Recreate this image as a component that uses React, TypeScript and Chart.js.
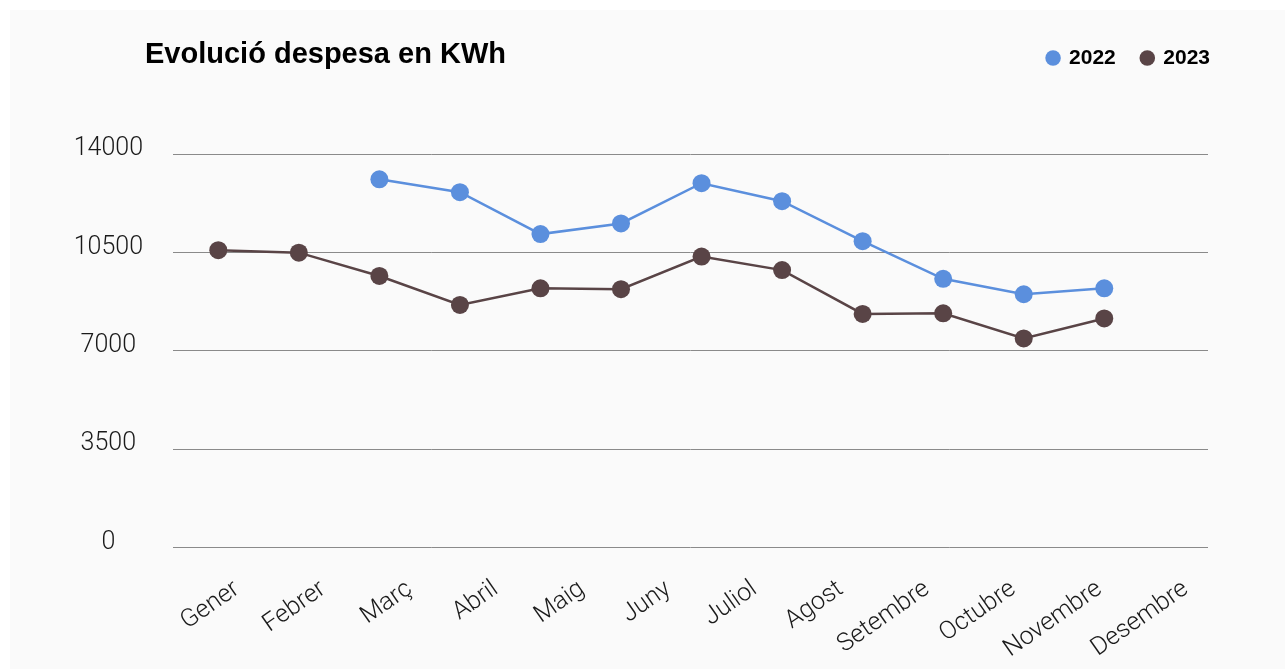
import React, { useEffect, useRef } from "react";
import { Chart, registerables } from "chart.js";

Chart.register(...registerables);

const chartTitle = "Evolució despesa en KWh";
const months = ["Gener", "Febrer", "Març", "Abril", "Maig", "Juny", "Juliol", "Agost", "Setembre", "Octubre", "Novembre", "Desembre"];
const seriesNames = ["2022", "2023"];
const kwh2022: (number | null)[] = [null, null, 13100, 12640, 11150, 11530, 12960, 12320, 10900, 9560, 9010, 9220];
const kwh2023: (number | null)[] = [10580, 10490, 9660, 8630, 9220, 9190, 10350, 9870, 8310, 8330, 7440, 8150];
const yTicks = [0, 3500, 7000, 10500, 14000];

const BLUE = "#5b8fdd";
const BROWN = "#594446";
const FAMILY = "Roboto, 'Liberation Sans', Arial, sans-serif";

export default function App() {
  const canvasRef = useRef<HTMLCanvasElement | null>(null);

  useEffect(() => {
    if (!canvasRef.current) return;
    const toPoints = (arr: (number | null)[]) => arr.map((v, i) => ({ x: i, y: v }));
    const chart = new Chart(canvasRef.current, {
      type: "line",
      data: {
        labels: months,
        datasets: [
          {
            label: seriesNames[0],
            data: toPoints(kwh2022) as any,
            xAxisID: "xp",
            yAxisID: "y",
            borderColor: BLUE,
            backgroundColor: BLUE,
            pointBackgroundColor: BLUE,
            pointBorderWidth: 0,
            pointRadius: 9,
            pointHoverRadius: 9,
            borderWidth: 2.5,
            tension: 0,
          },
          {
            label: seriesNames[1],
            data: toPoints(kwh2023) as any,
            xAxisID: "xp",
            yAxisID: "y",
            borderColor: BROWN,
            backgroundColor: BROWN,
            pointBackgroundColor: BROWN,
            pointBorderWidth: 0,
            pointRadius: 9,
            pointHoverRadius: 9,
            borderWidth: 2.5,
            tension: 0,
          },
        ],
      },
      options: {
        responsive: false,
        animation: false,
        events: [],
        layout: { padding: { top: 11.5, right: 49, left: 0, bottom: 0 } },
        plugins: {
          tooltip: { enabled: false },
          legend: {
            display: true,
            position: "top",
            align: "end",
            labels: {
              usePointStyle: true,
              pointStyle: "circle",
              boxWidth: 11,
              boxHeight: 11,
              padding: 26,
              color: "#000",
              font: { size: 21, weight: "bold", family: "'Liberation Sans', Arial, sans-serif" },
            },
          },
          subtitle: {
            display: true,
            text: " ",
            position: "top",
            weight: 500,
            font: { size: 10, lineHeight: 1.2 },
            padding: { top: 32, bottom: 31.5 },
          } as any,
        },
        scales: {
          x: {
            type: "category",
            position: "bottom",
            labels: months,
            offset: true,
            grid: { display: false, drawTicks: false },
            border: { display: false },
            ticks: {
              autoSkip: false,
              minRotation: 35,
              maxRotation: 35,
              labelOffset: 21,
              padding: 27,
              color: "#1a1a1a",
              font: { size: 25, family: FAMILY, weight: 300 as any },
            },
            afterFit: (s: any) => {
              s.height = 121.5;
            },
          },
          xp: {
            type: "linear",
            display: false,
            min: -0.5624,
            max: 12.288,
          },
          y: {
            type: "linear",
            position: "left",
            min: 0,
            max: 14000,
            afterBuildTicks: (s: any) => {
              s.ticks = yTicks.map((v) => ({ value: v }));
            },
            grid: { color: "#8a8a8a", lineWidth: 1, drawTicks: false },
            border: { display: false },
            ticks: {
              crossAlign: "center",
              padding: 30,
              labelOffset: -5,
              color: "#1a1a1a",
              font: { size: 25, family: FAMILY, weight: 300 as any },
              callback: (v: any) => String(v),
            },
            afterFit: (s: any) => {
              s.width = 163;
            },
          },
          y2: {
            type: "linear",
            position: "right",
            display: true,
            grid: { display: false, drawTicks: false },
            border: { display: false },
            ticks: { display: false },
            afterFit: (s: any) => {
              s.width = 28;
            },
          },
        },
      } as any,
    });
    return () => chart.destroy();
  }, []);

  return (
    <div
      style={{
        position: "absolute",
        left: 10,
        top: 10,
        width: 1275,
        height: 659,
        background: "#fafafa",
      }}
    >
      <div
        style={{
          position: "absolute",
          left: 135,
          top: 29,
          fontFamily: "'Liberation Sans', Arial, sans-serif",
          fontWeight: "bold",
          fontSize: 29,
          lineHeight: "29px",
          color: "#000",
          whiteSpace: "nowrap",
        }}
      >
        {chartTitle}
      </div>
      <canvas ref={canvasRef} width={1275} height={659} style={{ display: "block" }} />
    </div>
  );
}
